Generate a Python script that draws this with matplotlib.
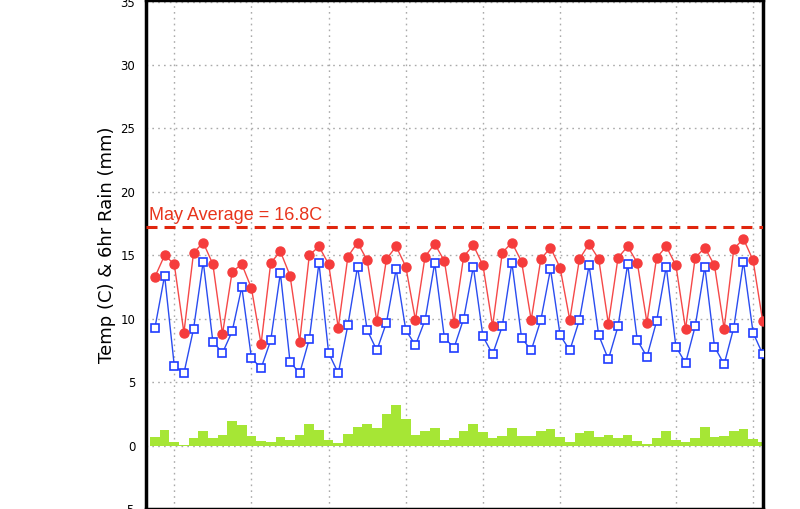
import matplotlib.pyplot as plt
import numpy as np

# 6-hourly readings, one per index
temp = [13.3, 15.0, 14.3, 8.9, 15.2, 16.0, 14.3, 8.8, 13.7, 14.3, 12.4, 8.0, 14.4, 15.3, 13.4, 8.2,
        15.0, 15.7, 14.3, 9.3, 14.9, 16.0, 14.6, 9.8, 14.7, 15.7, 14.1, 9.9, 14.9, 15.9, 14.55, 9.7,
        14.9, 15.8, 14.2, 9.4, 15.2, 16.0, 14.5, 9.9, 14.7, 15.6, 14.0, 9.9, 14.7, 15.9, 14.7, 9.6,
        14.8, 15.7, 14.4, 9.7, 14.8, 15.7, 14.2, 9.2, 14.8, 15.6, 14.2, 9.2, 15.5, 16.3, 14.6, 9.8]
dewpt = [9.3, 13.4, 6.3, 5.7, 9.2, 14.5, 8.2, 7.3, 9.0, 12.5, 6.9, 6.1, 8.3, 13.6, 6.6, 5.7,
         8.4, 14.4, 7.3, 5.7, 9.5, 14.1, 9.1, 7.5, 9.7, 13.9, 9.1, 7.9, 9.9, 14.4, 8.5, 7.7,
         10.0, 14.1, 8.6, 7.2, 9.4, 14.4, 8.5, 7.5, 9.9, 13.9, 8.7, 7.5, 9.9, 14.2, 8.7, 6.8,
         9.4, 14.3, 8.3, 7.0, 9.8, 14.1, 7.8, 6.5, 9.4, 14.1, 7.8, 6.4, 9.3, 14.5, 8.9, 7.2]
rain = [0.7, 1.25, 0.3, 0.07, 0.62, 1.17, 0.62, 0.85, 1.95, 1.64, 0.78, 0.38, 0.3, 0.7, 0.46, 0.85,
        1.72, 1.25, 0.46, 0.22, 0.93, 1.48, 1.72, 1.4, 2.49, 3.2, 2.1, 0.84, 1.16, 1.39, 0.45, 0.6,
        1.16, 1.71, 1.08, 0.6, 0.76, 1.39, 0.76, 0.76, 1.16, 1.31, 0.68, 0.29, 1.0, 1.16, 0.68, 0.84,
        0.6, 0.84, 0.37, 0.13, 0.6, 1.16, 0.45, 0.29, 0.6, 1.47, 0.68, 0.76, 1.16, 1.31, 0.53, 0.29]
day_ticks = [2, 10, 18, 26, 34, 42, 54, 62]
y_ticks = [-5, 0, 5, 10, 15, 20, 25, 30, 35]
avg_line = 17.2
avg_label = "May Average = 16.8C"

x = np.arange(len(temp))

fig = plt.figure(figsize=(8, 5.09), dpi=100)
ax = fig.add_axes([0.1831, 0.0, 0.7703, 1.0])

ax.bar(x, rain, width=1.0, color='#a6e635', zorder=2)
ax.plot(x, dewpt, '-', color='#2a4cf0', lw=1, marker='s', ms=5.5, mfc='white',
        mec='#1f3cff', mew=1.2, zorder=3)
ax.plot(x, temp, '-', color='#f54848', lw=1, marker='o', ms=6.5, mfc='#f53c3c',
        mec='#f53c3c', zorder=4)

ax.axhline(avg_line, color='#e0260e', lw=2.2, ls=(0, (3.6, 2.3)), zorder=3)
ax.text(-0.62, 17.75, avg_label, color='#e8341c', fontsize=13,
        family='Liberation Sans', va='baseline', ha='left')

ax.set_xlim(-0.88, 63.0)
ax.set_ylim(-4.98, 35.12)
ax.set_xticks(day_ticks)
ax.set_xticklabels([])
ax.set_yticks(y_ticks)
ax.tick_params(axis='y', labelsize=8.5, length=0, pad=8)
ax.tick_params(axis='x', length=0)
ax.grid(True, color='#aaaaaa', ls=(0, (1.2, 3)), lw=1)
ax.set_axisbelow(True)

for s in ['left', 'right', 'top', 'bottom']:
    ax.spines[s].set_linewidth(2.5)
    ax.spines[s].set_color('black')

fig.text(107 / 800, 1 - 245 / 509, "Temp (C) & 6hr Rain (mm)", rotation=90,
         ha='center', va='center', fontsize=13)

fig.savefig('out.png', dpi=100)
